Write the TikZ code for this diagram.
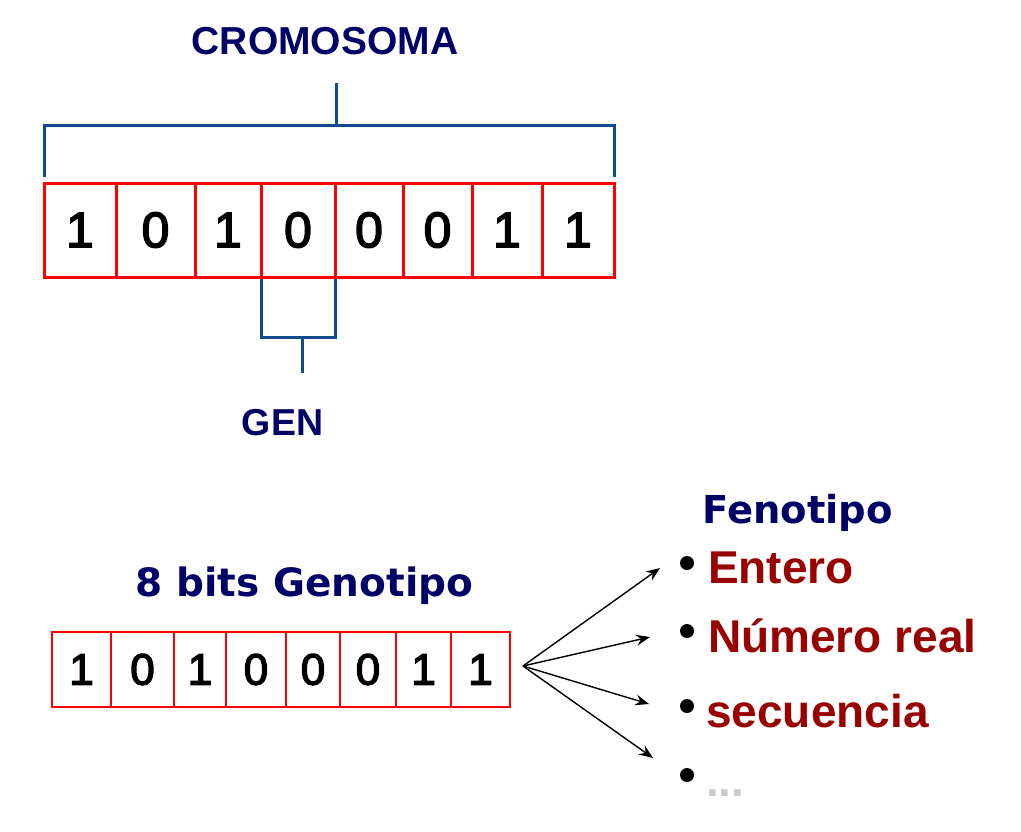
\documentclass[tikz,border=0pt]{standalone}
\usepackage{fontspec}
\setmainfont{Liberation Sans}
\newfontfamily\verd{DejaVu Sans}
\newfontfamily\digitfont{Liberation Sans}[FakeBold=3]
\usetikzlibrary{arrows.meta}
\definecolor{navy}{HTML}{000066}
\definecolor{brk}{HTML}{104B8A}
\definecolor{cellred}{HTML}{FF0000}
\definecolor{dred}{HTML}{990000}
\definecolor{dotgray}{HTML}{CCCCCC}
\begin{document}
\begin{tikzpicture}[x=1pt,y=-1pt,
  topcell/.style={draw=cellred, line width=3pt, inner sep=0pt, outer sep=0pt, minimum height=94pt, font=\digitfont\fontsize{50}{50}\selectfont},
  botcell/.style={draw=cellred, line width=2.6pt, inner sep=0pt, outer sep=0pt, minimum height=75pt, font=\digitfont\fontsize{44}{44}\selectfont},
  bracket/.style={draw=brk, line width=3pt},
  title/.style={text=navy, inner sep=0pt, anchor=base},
  item/.style={text=dred, inner sep=0pt, anchor=base west, font=\bfseries\fontsize{46}{46}\selectfont},
  bullet/.style={circle, fill=black, minimum size=14pt, inner sep=0pt},
  arr/.style={-{Stealth[length=14pt,width=11pt,inset=5pt]}, line width=1.4pt, black}
]
\useasboundingbox (0,0) rectangle (1021,831);

% titles
\node[title, font=\bfseries\fontsize{39}{39}\selectfont] (crom) at (325,54) {CROMOSOMA};
\node[title, font=\bfseries\fontsize{37.5}{37.5}\selectfont] (gen) at (282.5,435) {GEN};
\node[title, font=\verd\bfseries\fontsize{39}{39}\selectfont] (geno) at (304.5,596) {8 bits Genotipo};
\node[title, font=\verd\bfseries\fontsize{38.5}{38.5}\selectfont] (feno) at (797.5,523) {Fenotipo};

% top cells
\foreach \i/\a/\b/\d in {1/44/116/1,2/116/195/0,3/195/261/1,4/261/335/0,5/335/403/0,6/403/472/0,7/472/542/1,8/542/614/1}
  \node[topcell, minimum width={\b-\a}] (t\i) at ({(\a+\b)/2},230) {\d};

% brackets
\coordinate (crMid) at (336,125);
\coordinate (crTop) at (336,83);
\coordinate (genMid) at (302,337);
\coordinate (genTop) at (302,373);
\draw[bracket] ([yshift=6pt]t1.north west) |- (crMid) -| ([yshift=6pt]t8.north east);
\draw[bracket] (crMid) -- (crTop);
\draw[bracket] ([yshift=-1.5pt]t4.south west) |- (genMid) -| ([yshift=-1.5pt]t4.south east);
\draw[bracket] (genMid) -- (genTop);
\draw[draw=cellred, line width=3pt] (t1.south west) -- (t8.south east);

% bottom cells
\foreach \i/\a/\b/\d in {1/52/111/1,2/111/174/0,3/174/226/1,4/226/286/0,5/286/340/0,6/340/396/0,7/396/451/1,8/451/510/1}
  \node[botcell, minimum width={\b-\a}] (g\i) at ({(\a+\b)/2},669.5) {\d};

% bullets
\node[bullet] (b1) at (687,563) {};
\node[bullet] (b2) at (687,631) {};
\node[bullet] (b3) at (687,706) {};
\node[bullet] (b4) at (687,775) {};

% items
\node[item] (ent) at (708,583) {Entero};
\node[item] (num) at (708,652) {Número real};
\node[item] (sec) at (706,727) {secuencia};
\node[item, text=dotgray] (dots) at (706,796) {...};

% arrows
\coordinate (fan) at (523,666);
\coordinate (tip1) at (660,568);
\coordinate (tip2) at (650,637);
\coordinate (tip3) at (649,704);
\coordinate (tip4) at (653,758);
\draw[arr] (fan) -- (tip1);
\draw[arr] (fan) -- (tip2);
\draw[arr] (fan) -- (tip3);
\draw[arr] (fan) -- (tip4);
\end{tikzpicture}
\end{document}
